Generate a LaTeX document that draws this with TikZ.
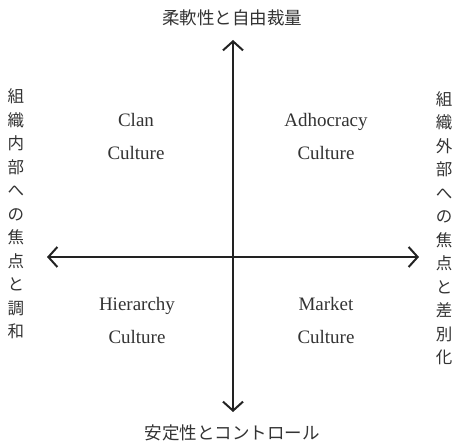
\documentclass[tikz,border=0pt]{standalone}
\usepackage{fontspec}
\setmainfont{Liberation Serif}
\newfontfamily\cjk{Noto Sans CJK JP}
\usetikzlibrary{arrows.meta}
\definecolor{ink}{HTML}{222222}
\definecolor{txt}{HTML}{333333}
\tikzset{
  axis/.style={draw=ink, line width=2pt, -{Straight Barb[length=9pt,width=20pt,line width=2pt]}},
  quad/.style={text=txt, align=center, font=\fontsize{19}{33}\selectfont},
  jlab/.style={text=txt, font=\cjk\fontsize{17.5}{17.5}\selectfont},
  vlab/.style={text=txt, align=center, font=\cjk\fontsize{16.5}{23.5}\selectfont, inner sep=0pt}
}
\begin{document}
\begin{tikzpicture}[x=1pt,y=-1pt]
\useasboundingbox (0,0) rectangle (457,446);
\coordinate (c) at (233,257);
\coordinate (top) at (233,40);
\coordinate (bot) at (233,412);
\coordinate (lft) at (47,257);
\coordinate (rgt) at (419,257);
\draw[axis] (c) -- (top);
\draw[axis] (c) -- (bot);
\draw[axis] (c) -- (lft);
\draw[axis] (c) -- (rgt);
\node[jlab] (tl) at (232,18) {柔軟性と自由裁量};
\node[jlab] (bl) at (232,433) {安定性とコントロール};
\node[vlab] (ll) at (16,214) {組\\織\\内\\部\\へ\\の\\焦\\点\\と\\調\\和};
\node[vlab] (rl) at (444,228) {組\\織\\外\\部\\へ\\の\\焦\\点\\と\\差\\別\\化};
\node[quad] (clan) at (136,137) {Clan\\Culture};
\node[quad] (adh) at (326,137) {Adhocracy\\Culture};
\node[quad] (hie) at (137,320) {Hierarchy\\Culture};
\node[quad] (mkt) at (326,320) {Market\\Culture};
\end{tikzpicture}
\end{document}
